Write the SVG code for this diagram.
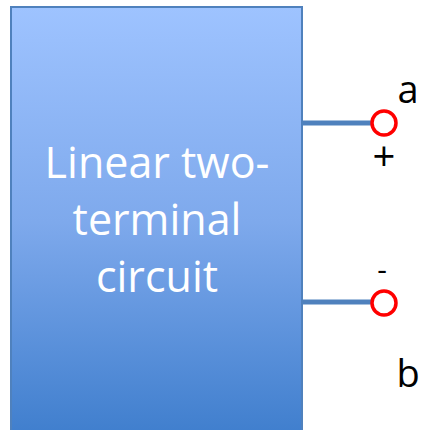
<svg xmlns="http://www.w3.org/2000/svg" width="422" height="430" viewBox="0 0 422 430">
<defs>
<linearGradient id="g" x1="0" y1="0" x2="0" y2="1">
<stop offset="0" stop-color="#9EC3FF"/>
<stop offset="0.5" stop-color="#7EA9EC"/>
<stop offset="1" stop-color="#3F7ECD"/>
</linearGradient>
<style>
.lbl{font-family:"Open Sans","Liberation Sans",sans-serif;fill:#000;text-anchor:middle}
.in{font-family:"Open Sans","Liberation Sans",sans-serif;fill:#fff;font-size:43px;text-anchor:middle}
.term{fill:#fff;stroke:#FF0000;stroke-width:3.5}
.wire{stroke:#4F81BD;stroke-width:5}
</style>
</defs>
<g id="circuit">
<rect x="11" y="7" width="291" height="430" fill="url(#g)" stroke="#4F81BD" stroke-width="2"/>
<text class="in" x="157" y="178">Linear two-</text>
<text class="in" x="157" y="235">terminal</text>
<text class="in" x="157" y="292">circuit</text>
</g>
<g id="connectors">
<line class="wire" x1="302" y1="123" x2="372" y2="123"/>
<line class="wire" x1="302" y1="302" x2="372" y2="302"/>
</g>
<g id="terminal-a">
<circle class="term" cx="384" cy="123" r="12"/>
<text class="lbl" x="408" y="103" font-size="38">a</text>
<text class="lbl" x="384" y="171" font-size="40">+</text>
</g>
<g id="terminal-b">
<circle class="term" cx="384" cy="303" r="12"/>
<text class="lbl" x="382" y="280" font-size="30">-</text>
<text class="lbl" x="408" y="387" font-size="38">b</text>
</g>
</svg>
